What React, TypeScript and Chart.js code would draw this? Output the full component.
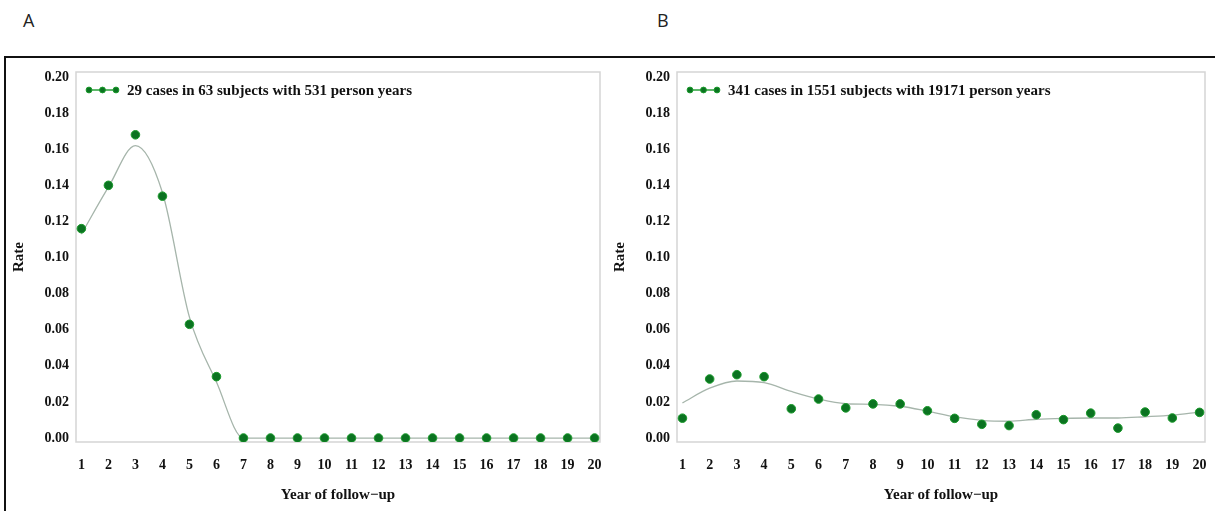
import React, { useEffect, useRef } from "react";
import { Chart, registerables } from "chart.js";

Chart.register(...registerables);

// Follow-up years shown on the x axis
const years = [1, 2, 3, 4, 5, 6, 7, 8, 9, 10, 11, 12, 13, 14, 15, 16, 17, 18, 19, 20];
const rateTicks = [0, 0.02, 0.04, 0.06, 0.08, 0.1, 0.12, 0.14, 0.16, 0.18, 0.2];

// Panel A: observed yearly rates and smoothed fit
const observedA = [0.116, 0.140, 0.168, 0.134, 0.063, 0.034, 0, 0, 0, 0, 0, 0, 0, 0, 0, 0, 0, 0, 0, 0];
const smoothA = [0.113, 0.139, 0.162, 0.136, 0.067, 0.031, 0, 0, 0, 0, 0, 0, 0, 0, 0, 0, 0, 0, 0, 0];
const legendA = "29 cases in 63 subjects with 531 person years";

// Panel B: observed yearly rates and smoothed fit
const observedB = [0.0110, 0.0327, 0.0351, 0.0340, 0.0162, 0.0216, 0.0167, 0.0189, 0.0189, 0.0151, 0.0109, 0.0076, 0.0069, 0.0129, 0.0102, 0.0138, 0.0055, 0.0144, 0.0111, 0.0142];
const smoothB = [0.0195, 0.0276, 0.0316, 0.0307, 0.0258, 0.0216, 0.0190, 0.0187, 0.0176, 0.0149, 0.0118, 0.0098, 0.0093, 0.0104, 0.0109, 0.0111, 0.0111, 0.0118, 0.0127, 0.0144];
const legendB = "341 cases in 1551 subjects with 19171 person years";

const POINT_FILL = "#0b7321";
const POINT_EDGE = "#1a9a2b";
const FIT_COLOR = "#a6b5ab";
const SERIF = "'Liberation Serif', 'Times New Roman', serif";

// Light frame around the plotting area
const framePlugin = {
  id: "plotFrame",
  beforeDatasetsDraw(chart: any) {
    const { ctx, chartArea } = chart;
    const { left, top, right, bottom } = chartArea;
    ctx.save();
    ctx.strokeStyle = "#d5d5d5";
    ctx.lineWidth = 1.5;
    ctx.strokeRect(left, top, right - left, bottom - top);
    ctx.restore();
  },
};

// Inset legend: three linked markers followed by the series label
const insetLegendPlugin = {
  id: "insetLegend",
  afterDatasetsDraw(chart: any) {
    const { ctx, chartArea } = chart;
    const label = chart.data.datasets[0].label as string;
    const y = chartArea.top + 18;
    const x0 = chartArea.left + 13;
    const gap = 13.5;
    ctx.save();
    ctx.strokeStyle = POINT_EDGE;
    ctx.lineWidth = 1.4;
    ctx.beginPath();
    ctx.moveTo(x0, y);
    ctx.lineTo(x0 + 2 * gap, y);
    ctx.stroke();
    for (let i = 0; i < 3; i++) {
      ctx.beginPath();
      ctx.arc(x0 + i * gap, y, 2.9, 0, Math.PI * 2);
      ctx.fillStyle = POINT_FILL;
      ctx.fill();
      ctx.strokeStyle = POINT_EDGE;
      ctx.lineWidth = 1;
      ctx.stroke();
    }
    ctx.fillStyle = "#111";
    ctx.font = `bold 15px ${SERIF}`;
    ctx.textBaseline = "middle";
    ctx.textAlign = "left";
    ctx.fillText(label, x0 + 2 * gap + 11, y + 1);
    ctx.restore();
  },
};

interface PanelProps {
  observed: number[];
  smooth: number[];
  legend: string;
  left: number;
  padRight: number;
}

function RatePanel({ observed, smooth, legend, left, padRight }: PanelProps) {
  const canvasRef = useRef<HTMLCanvasElement | null>(null);

  useEffect(() => {
    if (!canvasRef.current) return;
    const chart = new Chart(canvasRef.current, {
      type: "line",
      data: {
        datasets: [
          {
            label: legend,
            data: years.map((x, i) => ({ x, y: observed[i] })),
            showLine: false,
            pointRadius: 4.3,
            pointStyle: "circle",
            pointBackgroundColor: POINT_FILL,
            pointBorderColor: POINT_EDGE,
            pointBorderWidth: 1,
          },
          {
            label: "fit",
            data: years.map((x, i) => ({ x, y: smooth[i] })),
            borderColor: FIT_COLOR,
            borderWidth: 1.3,
            pointRadius: 0,
            cubicInterpolationMode: "monotone",
            fill: false,
          },
        ],
      },
      options: {
        animation: false,
        responsive: false,
        maintainAspectRatio: false,
        layout: { padding: { top: 12, right: padRight, left: 0, bottom: 0 } },
        plugins: {
          legend: { display: false },
          tooltip: { enabled: false },
        },
        scales: {
          x: {
            type: "linear",
            min: 0.8,
            max: 20.2,
            grid: { display: false, drawTicks: false },
            border: { display: false },
            afterBuildTicks: (scale: any) => {
              scale.ticks = years.map((v) => ({ value: v }));
            },
            afterFit: (scale: any) => {
              scale.height = 69;
              scale.paddingLeft = 0;
              scale.paddingRight = 0;
            },
            ticks: {
              padding: 15,
              color: "#111",
              font: { family: SERIF, size: 14, weight: "bold" },
              callback: (v: any) => String(v),
              maxRotation: 0,
              autoSkip: false,
            },
            title: {
              display: true,
              text: "Year of follow\u2212up",
              color: "#111",
              font: { family: SERIF, size: 15, weight: "bold" },
              padding: { top: 0, bottom: 7 },
            },
          },
          y: {
            type: "linear",
            min: -0.0022,
            max: 0.2028,
            grid: { display: false, drawTicks: false },
            border: { display: false },
            afterBuildTicks: (scale: any) => {
              scale.ticks = rateTicks.map((v) => ({ value: v }));
            },
            afterFit: (scale: any) => {
              scale.width = 76;
              scale.paddingTop = 0;
              scale.paddingBottom = 0;
            },
            ticks: {
              padding: 7,
              color: "#111",
              font: { family: SERIF, size: 14, weight: "bold" },
              callback: (v: any) => Number(v).toFixed(2),
            },
            title: {
              display: true,
              text: "Rate",
              color: "#111",
              font: { family: SERIF, size: 15, weight: "bold" },
              padding: { top: 10, bottom: 0 },
            },
          },
        },
      },
      plugins: [framePlugin, insetLegendPlugin],
    } as any);
    return () => chart.destroy();
  }, [observed, smooth, legend, padRight]);

  return (
    <canvas
      ref={canvasRef}
      width={610}
      height={451}
      style={{ position: "absolute", left, top: 60, width: 610, height: 451 }}
    />
  );
}

export default function App() {
  const panelLabel: React.CSSProperties = {
    position: "absolute",
    top: 8,
    fontFamily: "'Open Sans', sans-serif",
    fontSize: 18,
    color: "#222",
    lineHeight: "24px",
  };
  return (
    <div
      style={{
        position: "fixed",
        left: 0,
        top: 0,
        width: 1215,
        height: 511,
        overflow: "hidden",
        background: "#fff",
      }}
    >
      <div style={{ ...panelLabel, left: 23 }}>A</div>
      <div style={{ ...panelLabel, left: 657 }}>B</div>
      <div
        style={{
          position: "absolute",
          left: 4,
          top: 56,
          width: 1240,
          height: 500,
          border: "2px solid #111",
        }}
      />
      <RatePanel observed={observedA} smooth={smoothA} legend={legendA} left={0} padRight={10} />
      <RatePanel observed={observedB} smooth={smoothB} legend={legendB} left={601} padRight={6} />
    </div>
  );
}
